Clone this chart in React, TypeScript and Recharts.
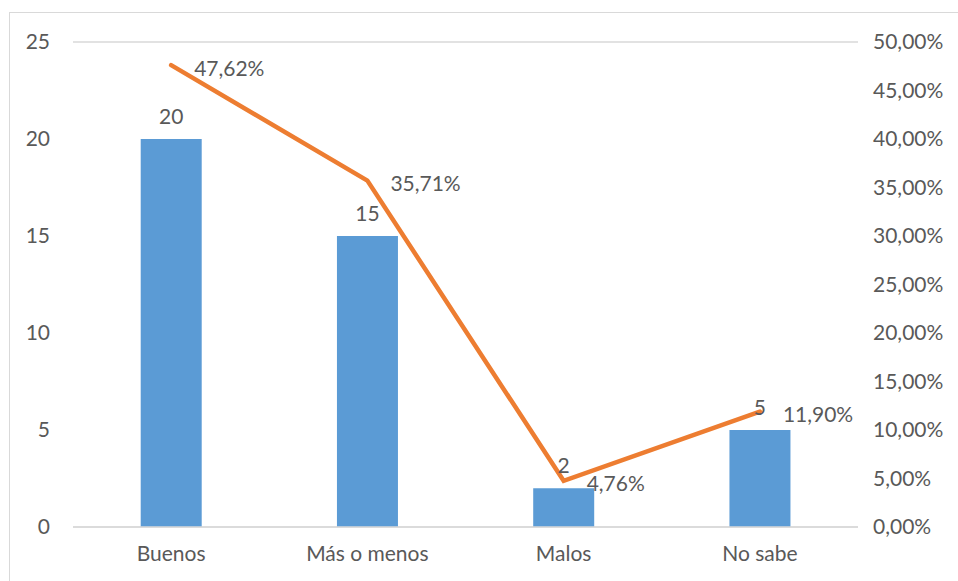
import React from "react";
import {
  Bar,
  CartesianGrid,
  ComposedChart,
  LabelList,
  Line,
  XAxis,
  YAxis,
} from "recharts";

const categories = ["Buenos", "Más o menos", "Malos", "No sabe"];
const counts = [20, 15, 2, 5];
const percents = [0.4762, 0.3571, 0.0476, 0.119];
const leftTicks = [0, 5, 10, 15, 20, 25];
const rightTicks = [0, 0.05, 0.1, 0.15, 0.2, 0.25, 0.3, 0.35, 0.4, 0.45, 0.5];

const data = categories.map((name, i) => ({
  name,
  count: counts[i],
  pct: percents[i],
}));

const FONT = "Lato, 'Open Sans', sans-serif";
const TEXT = "#595959";
const FS = 21;

const fmtPct = (v: number) => (v * 100).toFixed(2).replace(".", ",") + "%";

const PctLabel = ({ x, y, value }: any) => (
  <text
    x={x + 23}
    y={y + 2}
    fill={TEXT}
    fontSize={FS}
    fontFamily={FONT}
    dominantBaseline="central"
  >
    {fmtPct(value)}
  </text>
);

const App = () => {
  return (
    <div style={{ position: "absolute", left: 0, top: 0, width: 958, height: 581, overflow: "hidden", background: "#fff" }}>
      <div
        style={{
          position: "absolute",
          left: 9,
          top: 12,
          width: 1000,
          height: 600,
          border: "1px solid #D9D9D9",
        }}
      />
      <ComposedChart
        width={958}
        height={581}
        data={data}
        margin={{ top: 42, right: 0, bottom: 0, left: 0 }}
        barCategoryGap="34.5%"
        style={{ position: "absolute", left: 0, top: 0, fontFamily: FONT }}
      >
        <CartesianGrid vertical={false} stroke="#D9D9D9" strokeWidth={1.5} />
        <XAxis
          dataKey="name"
          height={54}
          axisLine={{ stroke: "#D9D9D9", strokeWidth: 1.5 }}
          tickLine={false}
          tickSize={0}
          tickMargin={19}
          tick={{ fill: TEXT, fontSize: FS }}
        />
        <YAxis
          yAxisId="left"
          width={73}
          domain={[0, 25]}
          ticks={leftTicks}
          axisLine={false}
          tickLine={false}
          tickSize={0}
          tickMargin={23}
          tick={{ fill: TEXT, fontSize: FS }}
        />
        <YAxis
          yAxisId="right"
          orientation="right"
          width={100}
          domain={[0, 0.5]}
          ticks={rightTicks}
          axisLine={false}
          tickLine={false}
          tickSize={0}
          tickMargin={15}
          tickFormatter={fmtPct}
          tick={{ fill: TEXT, fontSize: FS, textAnchor: "start" }}
        />
        <Bar yAxisId="left" dataKey="count" fill="#5B9BD5" isAnimationActive={false}>
          <LabelList
            dataKey="count"
            position="top"
            offset={15}
            fill={TEXT}
            fontSize={FS}
            fontFamily={FONT}
          />
        </Bar>
        <Line
          yAxisId="right"
          dataKey="pct"
          stroke="#ED7D31"
          strokeWidth={4.5}
          dot={false}
          strokeLinecap="round"
          isAnimationActive={false}
        >
          <LabelList dataKey="pct" content={<PctLabel />} />
        </Line>
      </ComposedChart>
    </div>
  );
};

export default App;
